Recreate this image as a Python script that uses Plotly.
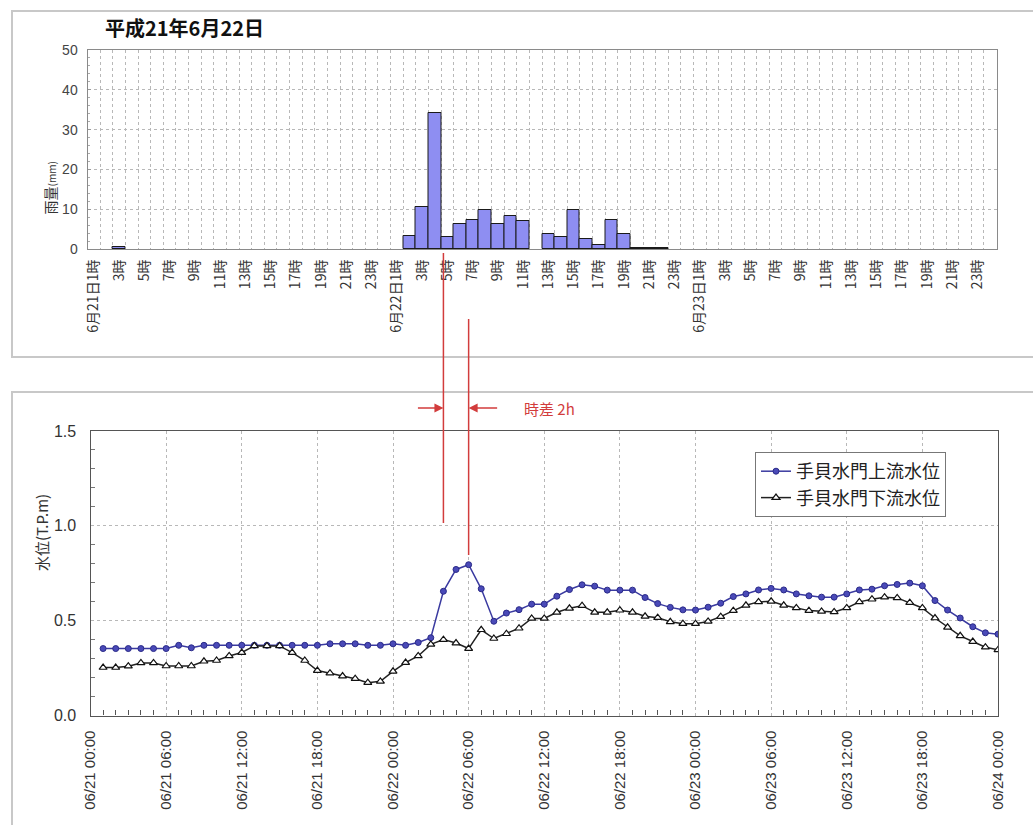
import pandas as pd
import plotly.graph_objects as go

W, H = 1033, 825

# ---- rainfall (hourly, mm), 1時..24時 for each day ----
rain_days = ["6月21日", "6月22日", "6月23日"]
rain_0621 = [0, 0, 0.5, 0, 0, 0, 0, 0, 0, 0, 0, 0,
             0, 0, 0, 0, 0, 0, 0, 0, 0, 0, 0, 0]
rain_0622 = [0, 3.3, 10.5, 34.2, 3.1, 6.2, 7.3, 9.7, 6.2, 8.4, 7.0, 0,
             3.8, 3.1, 9.7, 2.4, 0.9, 7.3, 3.8, 0.3, 0.3, 0.3, 0, 0]
rain_0623 = [0, 0, 0, 0, 0, 0, 0, 0, 0, 0, 0, 0,
             0, 0, 0, 0, 0, 0, 0, 0, 0, 0, 0, 0]

# ---- water levels (T.P.m), hourly from 06/21 01:00 to 06/24 00:00 ----
level_start = "2009-06-21 01:00"
upstream = [
    0.353, 0.353, 0.353, 0.353, 0.353, 0.353, 0.370, 0.357, 0.370, 0.370, 0.370, 0.370,
    0.370, 0.370, 0.370, 0.370, 0.370, 0.370, 0.378, 0.378, 0.378, 0.370, 0.370, 0.378,
    0.370, 0.385, 0.410, 0.655, 0.770, 0.795, 0.668, 0.497, 0.540, 0.558, 0.587, 0.587,
    0.629, 0.664, 0.689, 0.682, 0.661, 0.661, 0.661, 0.622, 0.590, 0.570, 0.557, 0.556,
    0.571, 0.592, 0.627, 0.641, 0.662, 0.670, 0.662, 0.641, 0.631, 0.624, 0.624, 0.641,
    0.662, 0.666, 0.684, 0.691, 0.698, 0.684, 0.606, 0.556, 0.514, 0.468, 0.436, 0.429,
]
downstream = [
    0.253, 0.253, 0.260, 0.277, 0.277, 0.261, 0.261, 0.261, 0.286, 0.290, 0.314, 0.332,
    0.367, 0.367, 0.367, 0.332, 0.290, 0.237, 0.223, 0.208, 0.194, 0.173, 0.180, 0.233,
    0.279, 0.314, 0.375, 0.400, 0.382, 0.353, 0.452, 0.406, 0.431, 0.460, 0.512, 0.512,
    0.544, 0.565, 0.579, 0.544, 0.544, 0.555, 0.544, 0.523, 0.516, 0.494, 0.484, 0.484,
    0.496, 0.521, 0.553, 0.581, 0.599, 0.602, 0.581, 0.567, 0.553, 0.549, 0.546, 0.567,
    0.599, 0.613, 0.624, 0.620, 0.595, 0.567, 0.514, 0.465, 0.420, 0.390, 0.360, 0.346,
]
series_names = ["手貝水門上流水位", "手貝水門下流水位"]

# rain peak and water-level peak used for the lag markers
rain_peak_time = "2009-06-22 04:00"
level_peak_time = "2009-06-22 06:00"
lag_label = "時差 2h"
title_text = "平成21年6月22日"

FONT = "Liberation Sans, Arial, Noto Sans CJK JP, sans-serif"
JFONT = "Noto Sans CJK JP, Liberation Sans, sans-serif"
RED = "#d23c3c"


def px_x(p):
    return p / W


def px_y(p):
    return 1 - p / H


# ---- rainfall positions & labels ----
rain_all = rain_0621 + rain_0622 + rain_0623
hour_pos = list(range(1, len(rain_all) + 1))
rain_plot = [v if v > 0 else None for v in rain_all]

tick_vals, tick_text = [], []
for d, day in enumerate(rain_days):
    for h in range(1, 25, 2):
        tick_vals.append(d * 24 + h)
        tick_text.append(f"{day}{h}時" if h == 1 else f"{h}時")

times = pd.date_range(level_start, periods=len(upstream), freq="h")

fig = go.Figure()

fig.add_trace(go.Bar(
    x=hour_pos, y=rain_plot, width=1,
    marker=dict(color="#8e8ef2", line=dict(color="#1a1a1a", width=1)),
    xaxis="x", yaxis="y", showlegend=False,
))

fig.add_trace(go.Scatter(
    x=times, y=upstream, name=series_names[0], mode="lines+markers",
    line=dict(color="#3a3aa0", width=1.5),
    marker=dict(symbol="circle", size=6, color="#4a4ab8",
                line=dict(color="#2a2a88", width=1)),
    xaxis="x2", yaxis="y2",
))
fig.add_trace(go.Scatter(
    x=times, y=downstream, name=series_names[1], mode="lines+markers",
    line=dict(color="#222222", width=1.5),
    marker=dict(symbol="triangle-up", size=7, color="white",
                line=dict(color="#111111", width=1.2)),
    xaxis="x2", yaxis="y2",
))

grid_c = "#b8b8b8"

fig.update_layout(
    width=W, height=H,
    margin=dict(l=0, r=0, t=0, b=0, autoexpand=False),
    paper_bgcolor="white", plot_bgcolor="white",
    font=dict(family=FONT, color="#333333"),
    bargap=0,
    xaxis=dict(
        domain=[px_x(87.5), px_x(996.5)], anchor="y", automargin=False,
        range=[0.5, len(rain_all) + 0.5],
        tickmode="array", tickvals=tick_vals, ticktext=tick_text,
        tickangle=-90, tickfont=dict(size=14, family=JFONT, color="#333"),
        showgrid=False, ticks="",
        minor=dict(tick0=0.5, dtick=1, showgrid=True, gridcolor=grid_c,
                   griddash="dot", gridwidth=1),
        showline=True, linecolor="#8a8a8a", linewidth=1, mirror=True,
        zeroline=False, ticklabelstandoff=4,
    ),
    yaxis=dict(
        domain=[px_y(249), px_y(50)], anchor="x", automargin=False,
        range=[0, 50], dtick=10, tickfont=dict(size=14, color="#444"),
        showgrid=True, gridcolor=grid_c, griddash="dot",
        ticks="inside", ticklen=3, tickcolor="#999",
        minor=dict(dtick=2, ticks="inside", ticklen=2, tickcolor="#aaa"),
        showline=True, linecolor="#8a8a8a", linewidth=1, mirror=True,
        zeroline=False, ticklabelstandoff=6,
    ),
    xaxis2=dict(
        domain=[px_x(90.5), px_x(998)], anchor="y2", type="date",
        automargin=False,
        range=["2009-06-21 00:00", "2009-06-24 00:00"],
        tick0="2009-06-21 00:00", dtick=6 * 3600 * 1000,
        tickformat="%m/%d %H:%M", tickangle=-90,
        tickfont=dict(size=15, color="#333"),
        showgrid=True, gridcolor=grid_c, griddash="dot",
        ticks="", minor=dict(dtick=3600 * 1000, ticks="inside", ticklen=5,
                             tickcolor="#555", showgrid=False),
        showline=True, linecolor="#555555", linewidth=1.2, mirror=True,
        zeroline=False, ticklabelstandoff=8,
    ),
    yaxis2=dict(
        domain=[px_y(715.5), px_y(431)], anchor="x2", automargin=False,
        range=[0, 1.5], dtick=0.5, tickformat=".1f",
        tickfont=dict(size=16, color="#333"),
        showgrid=True, gridcolor=grid_c, griddash="dot",
        ticks="", minor=dict(dtick=0.1, ticks="inside", ticklen=4,
                             tickcolor="#777"),
        showline=True, linecolor="#555555", linewidth=1.2, mirror=True,
        zeroline=False, ticklabelstandoff=10,
    ),
    legend=dict(
        x=px_x(755), y=px_y(452), xanchor="left", yanchor="top",
        bgcolor="white", bordercolor="#777777", borderwidth=1,
        font=dict(size=18, family=JFONT, color="#222"),
        itemwidth=30, tracegroupgap=0,
    ),
)

shapes = [
    # panel frames
    dict(type="rect", xref="paper", yref="paper",
         x0=px_x(12), x1=px_x(1040), y0=px_y(357), y1=px_y(11),
         line=dict(color="#c8c8c8", width=2), layer="below"),
    dict(type="rect", xref="paper", yref="paper",
         x0=px_x(12), x1=px_x(1040), y0=px_y(840), y1=px_y(392),
         line=dict(color="#c8c8c8", width=2), layer="below"),
    # lag guide lines
    dict(type="line", xref="x2", yref="paper",
         x0=rain_peak_time, x1=rain_peak_time, y0=px_y(523), y1=px_y(253),
         line=dict(color=RED, width=1.5)),
    dict(type="line", xref="x2", yref="paper",
         x0=level_peak_time, x1=level_peak_time, y0=px_y(555), y1=px_y(319),
         line=dict(color=RED, width=1.5)),
]

annotations = [
    dict(text=f"<b>{title_text}</b>", xref="paper", yref="paper",
         x=px_x(103), y=px_y(28), xanchor="left", yanchor="middle",
         showarrow=False, font=dict(size=20, family=JFONT, color="#111")),
    dict(text="雨量<span style='font-size:10px'>(mm)</span>",
         xref="paper", yref="paper", x=px_x(37), y=px_y(160),
         textangle=-90, showarrow=False,
         font=dict(size=14, family=JFONT, color="#333")),
    dict(text="水位(T.P.m)", xref="paper", yref="paper",
         x=px_x(29), y=px_y(573), textangle=-90, showarrow=False,
         font=dict(size=15, family=JFONT, color="#333")),
    dict(text="", xref="x2", yref="paper", x=rain_peak_time, y=px_y(408),
         ax=-27, ay=0, showarrow=True, arrowhead=2, arrowsize=1.2,
         arrowwidth=1.5, arrowcolor=RED),
    dict(text="", xref="x2", yref="paper", x=level_peak_time, y=px_y(408),
         ax=30, ay=0, showarrow=True, arrowhead=2, arrowsize=1.2,
         arrowwidth=1.5, arrowcolor=RED),
    dict(text=lag_label, xref="paper", yref="paper",
         x=px_x(522), y=px_y(408), xanchor="left", yanchor="middle",
         showarrow=False, font=dict(size=15, family=JFONT, color=RED)),
]

fig.update_layout(shapes=shapes, annotations=annotations)

fig.write_html("out.html")
